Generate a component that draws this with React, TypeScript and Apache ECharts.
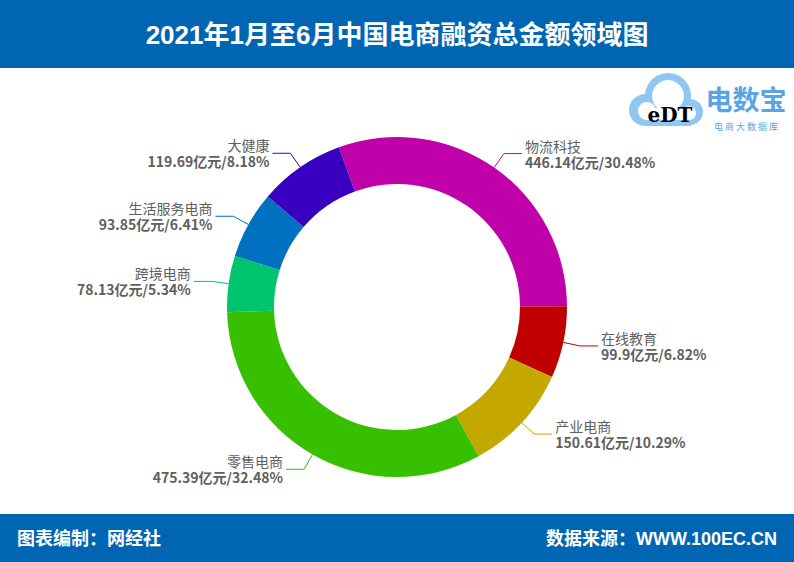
import React, { useEffect, useRef } from "react";
import * as echarts from "echarts";

const categories = ["物流科技", "在线教育", "产业电商", "零售电商", "跨境电商", "生活服务电商", "大健康"];
const amounts = [446.14, 99.9, 150.61, 475.39, 78.13, 93.85, 119.69];
const percents = ["30.48", "6.82", "10.29", "32.48", "5.34", "6.41", "8.18"];
const colors = ["#c000a8", "#c00000", "#c4a800", "#36c000", "#00c46e", "#0070c0", "#3a00c0"];

const titleText = "2021年1月至6月中国电商融资总金额领域图";
const footerLeft = "图表编制：网经社";
const footerRight = "数据来源：WWW.100EC.CN";

export default function App() {
  const ref = useRef<HTMLDivElement>(null);
  useEffect(() => {
    document.body.style.margin = "0";
    const chart = echarts.init(ref.current!, null, { renderer: "svg" });
    const font = '"Noto Sans CJK SC", "Microsoft YaHei", sans-serif';
    const headFont = '"Liberation Sans", "Noto Sans CJK SC", sans-serif';
    chart.setOption({
      animation: false,
      backgroundColor: "#ffffff",
      textStyle: { fontFamily: font },
      graphic: [
        { type: "rect", shape: { x: 0, y: 0, width: 794, height: 68 }, style: { fill: "#0066b3" } },
        { type: "rect", shape: { x: 0, y: 514, width: 794, height: 48 }, style: { fill: "#0066b3" } },
        {
          type: "text", x: 397, y: 35,
          style: { text: titleText, fill: "#ffffff", font: `bold 26px ${headFont}`, textAlign: "center", textVerticalAlign: "middle" },
        },
        {
          type: "text", x: 17, y: 539,
          style: { text: footerLeft, fill: "#ffffff", font: `bold 18px ${headFont}`, textAlign: "left", textVerticalAlign: "middle" },
        },
        {
          type: "text", x: 777, y: 539,
          style: { text: footerRight, fill: "#ffffff", font: `bold 18px ${headFont}`, textAlign: "right", textVerticalAlign: "middle" },
        },
        // logo cloud
        {
          type: "group",
          children: [
            { type: "circle", shape: { cx: 668, cy: 96, r: 23 }, style: { fill: "#8fc6f2" } },
            { type: "circle", shape: { cx: 645, cy: 110, r: 16 }, style: { fill: "#8fc6f2" } },
            { type: "circle", shape: { cx: 690, cy: 112, r: 13 }, style: { fill: "#8fc6f2" } },
            { type: "rect", shape: { x: 645, y: 108, width: 46, height: 18 }, style: { fill: "#8fc6f2" } },
            { type: "circle", shape: { cx: 668, cy: 96, r: 16 }, style: { fill: "#ffffff" } },
            { type: "circle", shape: { cx: 647, cy: 111, r: 9 }, style: { fill: "#ffffff" } },
            { type: "circle", shape: { cx: 689, cy: 113, r: 7 }, style: { fill: "#ffffff" } },
            { type: "rect", shape: { x: 647, y: 108, width: 42, height: 12 }, style: { fill: "#ffffff" } },
            {
              type: "text", x: 670, y: 115,
              style: {
                text: "eDT", font: `bold 20px "DejaVu Serif", serif`, textAlign: "center", textVerticalAlign: "middle",
                fill: new echarts.graphic.LinearGradient(0, 0, 0, 1, [
                  { offset: 0, color: "#a8d040" },
                  { offset: 1, color: "#58a8e0" },
                ]),
              },
            },
            {
              type: "text", x: 746, y: 98,
              style: { text: "电数宝", font: `bold 27px ${font}`, fill: "#5aa4e6", textAlign: "center", textVerticalAlign: "middle" },
            },
            {
              type: "text", x: 746, y: 126,
              style: { text: "电 商 大 数 据 库", font: `9px ${font}`, fill: "#5aa4e6", textAlign: "center", textVerticalAlign: "middle" },
            },
          ],
        },
      ],
      series: [
        {
          type: "pie",
          center: [397, 307],
          radius: [123, 170],
          startAngle: 110,
          clockwise: true,
          avoidLabelOverlap: true,
          color: colors,
          data: categories.map((c, i) => ({ name: c, value: amounts[i] })),
          label: {
            show: true,
            position: "outside",
            distanceToLabelLine: 3,
            formatter: (p: any) => `{a|${p.name}}\n{b|${amounts[p.dataIndex]}亿元/${percents[p.dataIndex]}%}`,
            rich: {
              a: { fontSize: 14, color: "#606060", fontFamily: font, lineHeight: 16 },
              b: { fontSize: 14, color: "#606060", fontWeight: "bold", fontFamily: font, lineHeight: 16 },
            },
          },
          labelLine: { show: true, length: 17, length2: 18, lineStyle: { width: 1 } },
        },
      ],
    });
    return () => chart.dispose();
  }, []);
  return <div ref={ref} style={{ width: 794, height: 562, position: "absolute", left: 0, top: 0 }} />;
}
